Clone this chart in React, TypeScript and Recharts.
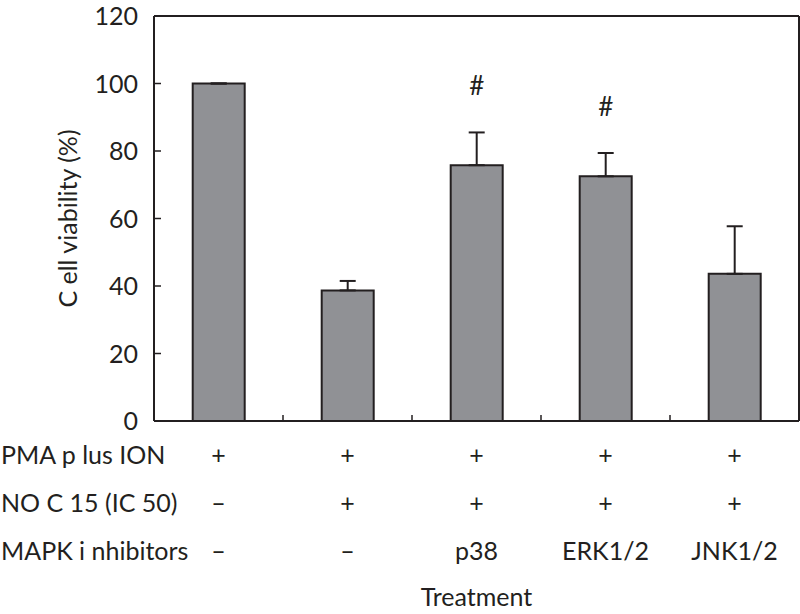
import React from "react";
import { BarChart, Bar, XAxis, YAxis, ErrorBar, LabelList } from "recharts";

// treatment groups (one column each in the table under the chart)
const groups = ["g1", "g2", "g3", "g4", "g5"];
const pmaRow = ["+", "+", "+", "+", "+"];
const nocRow = ["–", "+", "+", "+", "+"];
const mapkRow = ["–", "–", "p38", "ERK1/2", "JNK1/2"];
const rowLabels = ["PMA p lus ION", "NO C 15 (IC 50)", "MAPK i nhibitors"];

const viability = [100, 38.7, 75.8, 72.5, 43.6];
const sem = [0, 2.8, 9.7, 6.9, 14.1];
const marks = ["", "", "#", "#", ""];
const yTicks = [0, 20, 40, 60, 80, 100, 120];

const INK = "#231f20";
const FONT = "Lato, 'Open Sans', sans-serif";

const data = groups.map((g, i) => ({
  group: g,
  viability: viability[i],
  err: [0, sem[i]],
  mark: marks[i],
}));

function YTick(props: any) {
  const { x, y, payload } = props;
  return (
    <g>
      <text x={x} y={y} dy={9} textAnchor="end" fontSize={25} fill={INK} fontFamily={FONT}>
        {payload.value}
      </text>
      <line x1={x + 16} x2={x + 23} y1={y} y2={y} stroke={INK} strokeWidth={1.5} />
    </g>
  );
}

function TableTick(props: any) {
  const { x, y, index, width, visibleTicksCount } = props;
  const band = width / visibleTicksCount;
  const cells = [pmaRow[index], nocRow[index], mapkRow[index]];
  const offsets = [43, 91, 139];
  return (
    <g>
      {index < visibleTicksCount - 1 && (
        <line x1={x + band / 2} x2={x + band / 2} y1={y} y2={y - 6} stroke={INK} strokeWidth={1.5} />
      )}
      {cells.map((c, r) => (
        <text key={r} x={x} y={y + offsets[r]} textAnchor="middle" fontSize={25} fill={INK} fontFamily={FONT}>
          {c}
        </text>
      ))}
      {index === 0 &&
        rowLabels.map((l, r) => (
          <text key={"l" + r} x={1} y={y + offsets[r]} fontSize={25} fill={INK} fontFamily={FONT}>
            {l}
          </text>
        ))}
    </g>
  );
}

function MarkLabel(props: any) {
  const { x, y, width, height, value, index } = props;
  if (!value) return null;
  const errPx = (sem[index] * height) / viability[index];
  return (
    <text x={x + width / 2} y={y - errPx - 46} dy={9} textAnchor="middle" fontSize={26} fill={INK} fontFamily={FONT}>
      {value}
    </text>
  );
}

function YLabel(props: any) {
  const { viewBox } = props;
  const cx = 67;
  const cy = viewBox.y + viewBox.height / 2;
  return (
    <text
      x={cx}
      y={cy}
      transform={`rotate(-90, ${cx}, ${cy})`}
      textAnchor="middle"
      dominantBaseline="central"
      fontSize={25}
      fill={INK}
      fontFamily={FONT}
    >
      C ell viability (%)
    </text>
  );
}

export default function App() {
  return (
    <div style={{ position: "absolute", left: 0, top: 0, background: "#fff" }}>
      <BarChart
        width={800}
        height={614}
        data={data}
        margin={{ top: 15, right: 0, bottom: 0, left: 0 }}
        barCategoryGap="30%"
      >
        <XAxis
          dataKey="group"
          height={193}
          axisLine={{ stroke: INK, strokeWidth: 2 }}
          tickLine={false}
          tickSize={0}
          tickMargin={0}
          tick={<TableTick />}
          interval={0}
          label={{ value: "Treatment", position: "insideBottom", offset: 8, fontSize: 25, fill: INK, fontFamily: FONT }}
        />
        <XAxis
          xAxisId="top"
          dataKey="group"
          orientation="top"
          height={1}
          tick={false}
          tickLine={false}
          axisLine={{ stroke: INK, strokeWidth: 2 }}
        />
        <YAxis
          domain={[0, 120]}
          ticks={yTicks}
          width={154}
          tickLine={false}
          tickSize={0}
          tickMargin={16}
          tick={<YTick />}
          interval={0}
          axisLine={{ stroke: INK, strokeWidth: 2 }}
          label={<YLabel />}
        />
        <YAxis
          yAxisId="right"
          orientation="right"
          domain={[0, 120]}
          width={1}
          tick={false}
          tickLine={false}
          axisLine={{ stroke: INK, strokeWidth: 2 }}
        />
        <Bar dataKey="viability" fill="#909195" stroke={INK} strokeWidth={2} isAnimationActive={false}>
          <ErrorBar dataKey="err" width={8} stroke={INK} strokeWidth={2} direction="y" />
          <LabelList dataKey="mark" content={<MarkLabel />} />
        </Bar>
      </BarChart>
    </div>
  );
}
